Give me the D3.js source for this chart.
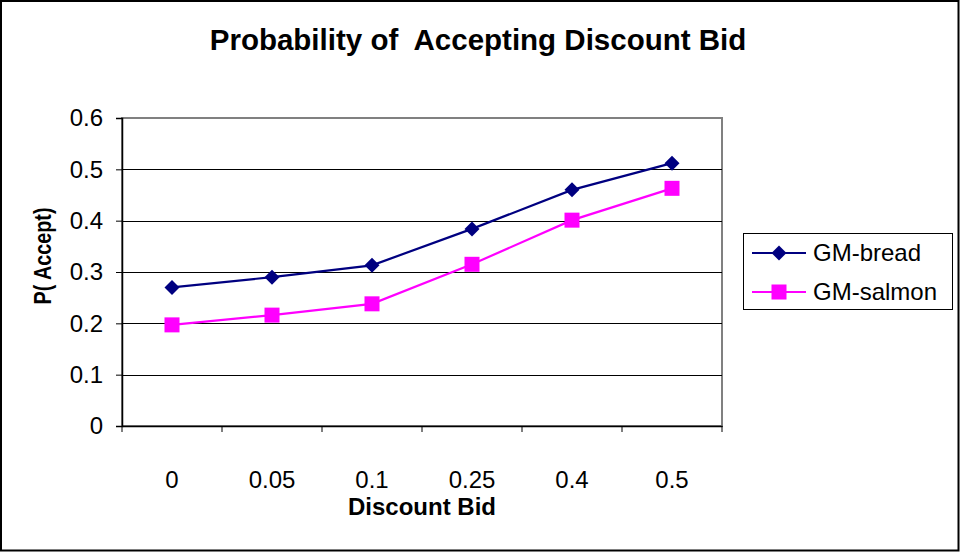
<!DOCTYPE html>
<html>
<head>
<meta charset="utf-8">
<script src="https://cdn.jsdelivr.net/npm/d3@7/dist/d3.min.js"></script>
<style>
  html, body { margin: 0; padding: 0; background: #fff; }
  svg { display: block; font-family: "Liberation Sans", Arial, sans-serif; }
</style>
</head>
<body>
<svg id="chart" width="961" height="554"></svg>
<script>
// Discount levels (category axis)
const categories = ["0", "0.05", "0.1", "0.25", "0.4", "0.5"];
// Probability of acceptance for each product
const breadValues = [0.27, 0.29, 0.313, 0.384, 0.46, 0.512];
const salmonValues = [0.197, 0.216, 0.238, 0.315, 0.401, 0.463];
// Value axis ticks
const yTickValues = [0, 0.1, 0.2, 0.3, 0.4, 0.5, 0.6];
const yTickLabels = ["0", "0.1", "0.2", "0.3", "0.4", "0.5", "0.6"];

const seriesList = [
  { name: "GM-bread", values: breadValues, color: "#000080", marker: "diamond" },
  { name: "GM-salmon", values: salmonValues, color: "#FF00FF", marker: "square" }
];

const svg = d3.select("#chart");
const W = 961, H = 554;
const plot = { left: 122, right: 722, top: 118, bottom: 426 };

svg.append("rect").attr("width", W).attr("height", H).attr("fill", "#fff");
// chart frame
svg.append("rect")
  .attr("x", 1).attr("y", 1).attr("width", 957.5).attr("height", 549.5)
  .attr("fill", "none").attr("stroke", "#000").attr("stroke-width", 2);

const x = d3.scaleBand().domain(categories).range([plot.left, plot.right]).padding(0);
const y = d3.scaleLinear().domain([0, 0.6]).range([plot.bottom, plot.top]);

// plot area border
svg.append("rect")
  .attr("x", plot.left).attr("y", plot.top)
  .attr("width", plot.right - plot.left).attr("height", plot.bottom - plot.top)
  .attr("fill", "#fff").attr("stroke", "#808080").attr("stroke-width", 2);

// horizontal gridlines
svg.append("g").selectAll("line")
  .data(yTickValues.filter(v => v > 0 && v < 0.6))
  .join("line")
  .attr("x1", plot.left).attr("x2", plot.right)
  .attr("y1", d => Math.round(y(d)) + 0.5).attr("y2", d => Math.round(y(d)) + 0.5)
  .attr("stroke", "#000").attr("stroke-width", 1);

// y axis
const yAxis = d3.axisLeft(y)
  .tickValues(yTickValues)
  .tickFormat((d, i) => yTickLabels[i])
  .tickSize(6).tickPadding(13);
const gy = svg.append("g").attr("transform", `translate(${plot.left},0)`).call(yAxis);
gy.select(".domain").attr("stroke", "#000").attr("stroke-width", 1.5);
gy.selectAll(".tick line").attr("stroke", "#000");
gy.selectAll(".tick text").attr("font-size", 24).attr("fill", "#000")
  .attr("font-family", "Liberation Sans, Arial, sans-serif");

// x axis: labels centred in categories, tick marks on category boundaries
const xAxis = d3.axisBottom(x).tickSize(0).tickPadding(0);
const gx = svg.append("g").attr("transform", `translate(0,${plot.bottom})`).call(xAxis);
gx.select(".domain").attr("stroke", "#000").attr("stroke-width", 1.5);
gx.selectAll(".tick text").attr("font-size", 24).attr("fill", "#000")
  .attr("font-family", "Liberation Sans, Arial, sans-serif")
  .attr("y", 62).attr("dy", null);
const boundaries = categories.map(c => x(c)).concat([x(categories[categories.length - 1]) + x.bandwidth()]);
svg.append("g").selectAll("line")
  .data(boundaries)
  .join("line")
  .attr("x1", d => d).attr("x2", d => d)
  .attr("y1", plot.bottom).attr("y2", plot.bottom + 6)
  .attr("stroke", "#000").attr("stroke-width", 1);

// marker shapes
function drawMarker(g, type, cx, cy, color) {
  if (type === "diamond") {
    const r = 7.5;
    g.append("path")
      .attr("d", `M${cx},${cy - r}L${cx + r},${cy}L${cx},${cy + r}L${cx - r},${cy}Z`)
      .attr("fill", color);
  } else {
    const s = 15;
    g.append("rect")
      .attr("x", cx - s / 2).attr("y", cy - s / 2)
      .attr("width", s).attr("height", s)
      .attr("fill", color);
  }
}

const cx = c => x(c) + x.bandwidth() / 2;
const line = d3.line().x((d, i) => cx(categories[i])).y(d => y(d));

seriesList.forEach(s => {
  const g = svg.append("g");
  g.append("path")
    .attr("d", line(s.values))
    .attr("fill", "none").attr("stroke", s.color).attr("stroke-width", 2.2);
  s.values.forEach((v, i) => drawMarker(g, s.marker, cx(categories[i]), y(v), s.color));
});

// title
svg.append("text")
  .attr("x", 478).attr("y", 50)
  .attr("text-anchor", "middle")
  .attr("font-size", 29.5).attr("font-weight", "bold")
  .style("white-space", "pre")
  .attr("xml:space", "preserve")
  .text("Probability of  Accepting Discount Bid");

// axis titles
svg.append("text")
  .attr("x", (plot.left + plot.right) / 2).attr("y", 515)
  .attr("text-anchor", "middle")
  .attr("font-size", 24).attr("font-weight", "bold")
  .text("Discount Bid");

svg.append("text")
  .attr("transform", "translate(51,256) rotate(-90)")
  .attr("text-anchor", "middle")
  .attr("font-size", 24).attr("font-weight", "bold")
  .attr("textLength", 97).attr("lengthAdjust", "spacingAndGlyphs")
  .style("white-space", "pre")
  .text("P( Accept)");

// legend
const legend = svg.append("g");
legend.append("rect")
  .attr("x", 743.5).attr("y", 233.5).attr("width", 209).attr("height", 76)
  .attr("fill", "#fff").attr("stroke", "#000").attr("stroke-width", 1);
const legendRows = [253, 292];
seriesList.forEach((s, i) => {
  const ly = legendRows[i];
  legend.append("line")
    .attr("x1", 752).attr("x2", 806).attr("y1", ly).attr("y2", ly)
    .attr("stroke", s.color).attr("stroke-width", 2.2);
  drawMarker(legend, s.marker, 779, ly, s.color);
  legend.append("text")
    .attr("x", 813).attr("y", ly).attr("dy", "0.35em")
    .attr("font-size", 24)
    .text(s.name);
});
</script>
</body>
</html>
